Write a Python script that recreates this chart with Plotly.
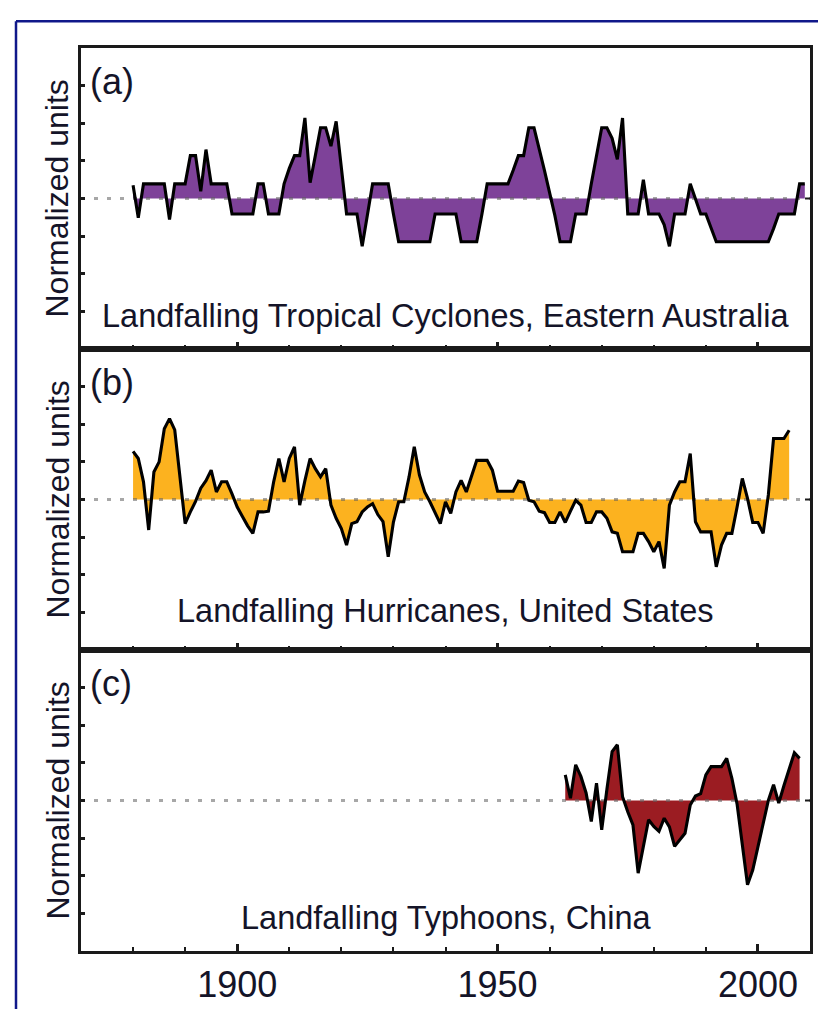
import plotly.graph_objects as go

# ---------------- data ----------------
start_a = 1880
tc_australia = [
    0.35, -0.51, 0.39, 0.39, 0.39, 0.39, 0.39, -0.56, 0.39, 0.39,
    0.39, 1.14, 1.14, 0.19, 1.30, 0.39, 0.39, 0.39, 0.39, -0.41,
    -0.41, -0.41, -0.41, -0.41, 0.39, 0.39, -0.41, -0.41, -0.41, 0.39,
    0.80, 1.14, 1.14, 2.14, 0.42, 1.14, 1.88, 1.88, 1.39, 2.05,
    0.75, -0.41, -0.41, -0.41, -1.27, -0.41, 0.39, 0.39, 0.39, 0.39,
    -0.41, -1.15, -1.15, -1.15, -1.15, -1.15, -1.15, -1.15, -0.41, -0.41,
    -0.41, -0.41, -0.41, -1.15, -1.15, -1.15, -1.15, -0.41, 0.39, 0.39,
    0.39, 0.39, 0.39, 0.75, 1.14, 1.14, 1.88, 1.88, 1.35, 0.75,
    0.15, -0.45, -1.15, -1.15, -1.15, -0.41, -0.41, -0.41, 0.39, 1.14,
    1.88, 1.88, 1.60, 1.04, 2.14, -0.41, -0.41, -0.41, 0.50, -0.41,
    -0.41, -0.41, -0.70, -1.27, -0.41, -0.41, -0.41, 0.39, 0.00, -0.41,
    -0.41, -0.80, -1.15, -1.15, -1.15, -1.15, -1.15, -1.15, -1.15, -1.15,
    -1.15, -1.15, -1.15, -0.80, -0.41, -0.41, -0.41, -0.41, 0.39, 0.39,
]

start_b = 1880
hurricanes_us = [
    1.28, 1.09, 0.47, -0.81, 0.73, 1.00, 1.88, 2.15, 1.85, 0.60,
    -0.64, -0.33, -0.05, 0.30, 0.50, 0.78, 0.20, 0.47, 0.47, 0.15,
    -0.20, -0.45, -0.70, -0.90, -0.33, -0.33, -0.31, 0.47, 1.09, 0.47,
    1.09, 1.40, -0.15, 0.50, 1.09, 0.82, 0.60, 0.82, -0.15, -0.50,
    -0.77, -1.21, -0.64, -0.59, -0.33, -0.20, -0.11, -0.40, -0.59, -1.52,
    -0.60, -0.06, -0.06, 0.60, 1.40, 0.65, 0.20, -0.06, -0.33, -0.64,
    -0.06, -0.37, 0.20, 0.51, 0.20, 0.65, 1.04, 1.04, 1.04, 0.78,
    0.22, 0.22, 0.22, 0.22, 0.49, 0.45, -0.02, -0.06, -0.31, -0.35,
    -0.61, -0.61, -0.33, -0.61, -0.31, -0.02, -0.15, -0.61, -0.61, -0.33,
    -0.33, -0.50, -0.86, -0.90, -1.39, -1.39, -1.39, -0.90, -0.90, -1.12,
    -1.39, -1.12, -1.83, -0.15, 0.20, 0.47, 0.47, 1.22, -0.59, -0.86,
    -0.86, -0.86, -1.79, -1.21, -0.90, -0.90, -0.20, 0.56, 0.03, -0.61,
    -0.61, -0.90, 0.12, 1.62, 1.62, 1.62, 1.84,
]

start_c = 1963
typhoons_china = [
    0.68, 0.06, 0.95, 0.64, 0.20, -0.56, 0.46, -0.78, 0.30, 1.30,
    1.48, 0.10, -0.30, -0.65, -1.93, -1.22, -0.51, -0.69, -0.82, -0.47,
    -0.70, -1.22, -1.04, -0.87, -0.12, 0.12, 0.18, 0.68, 0.90, 0.90,
    0.90, 1.12, 0.59, -0.10, -1.15, -2.24, -1.85, -1.25, -0.60, 0.00,
    0.42, -0.07, 0.40, 0.81, 1.27, 1.12,
]

years_a = list(range(start_a, start_a + len(tc_australia)))
years_b = list(range(start_b, start_b + len(hurricanes_us)))
years_c = list(range(start_c, start_c + len(typhoons_china)))

panel_labels = ["(a)", "(b)", "(c)"]
panel_titles = [
    "Landfalling Tropical Cyclones, Eastern Australia",
    "Landfalling Hurricanes, United States",
    "Landfalling Typhoons, China",
]
y_label = "Normalized units"
x_tick_vals = [1900, 1950, 2000]
x_tick_text = ["1900", "1950", "2000"]
y_tick_vals = [-3, -2, -1, 0, 1, 2, 3]
x_range = [1870, 2010]
y_range = [-4, 4]

# ---------------- styling ----------------
fill_colors = ["#7e4299", "#fcb21f", "#9b1c22"]
FONT = "Liberation Sans, Arial, sans-serif"
TXT = "#141428"
AX = "#1a1a1a"

W, H = 826, 1009
L, R, T, B = 73, 24, 40, 60
PW, PH = W - L - R, H - T - B


def px_x(px):
    return (px - L) / PW


def px_y(py):
    return (H - B - py) / PH


domains = [[2 / 3, 1.0], [1 / 3, 2 / 3], [0.0, 1 / 3]]
series = [(years_a, tc_australia), (years_b, hurricanes_us), (years_c, typhoons_china)]

fig = go.Figure()
layout = dict(
    width=W, height=H,
    margin=dict(l=L, r=R, t=T, b=B),
    paper_bgcolor="white", plot_bgcolor="white",
    showlegend=False,
    font=dict(family=FONT, color=TXT),
)

annotations = []
shapes = []

for i, (yrs, vals) in enumerate(series):
    xa = "x" if i == 0 else f"x{i + 1}"
    ya = "y" if i == 0 else f"y{i + 1}"
    # filled area
    fig.add_trace(go.Scatter(x=yrs, y=vals, mode="lines", fill="tozeroy",
                             fillcolor=fill_colors[i], line=dict(width=0, color=fill_colors[i]),
                             xaxis=xa, yaxis=ya, hoverinfo="skip"))
    # dotted zero line
    fig.add_trace(go.Scatter(x=x_range, y=[0, 0], mode="lines",
                             line=dict(color="rgba(95,95,95,0.55)", width=3, dash="4px,9px"),
                             xaxis=xa, yaxis=ya, hoverinfo="skip"))
    # black outline
    fig.add_trace(go.Scatter(x=yrs, y=vals, mode="lines",
                             line=dict(color="black", width=3.1),
                             xaxis=xa, yaxis=ya))

    xkey = "xaxis" if i == 0 else f"xaxis{i + 1}"
    ykey = "yaxis" if i == 0 else f"yaxis{i + 1}"
    layout[xkey] = dict(
        domain=[0, 1], anchor=ya, range=x_range,
        showgrid=False, zeroline=False,
        showline=True, mirror=True, linecolor=AX, linewidth=2.5,
        ticks="inside", ticklen=7, tickwidth=2.5, tickcolor=AX,
        tickvals=x_tick_vals, ticktext=x_tick_text,
        showticklabels=(i == 2),
        tickfont=dict(size=36, color=TXT, family=FONT),
        minor=dict(dtick=10, tick0=1870, ticks="inside", ticklen=4, tickwidth=2, tickcolor=AX),
    )
    if i > 0:
        layout[xkey]["matches"] = "x"
    layout[ykey] = dict(
        domain=domains[i], anchor=xa, range=y_range,
        showgrid=False, zeroline=False,
        showline=True, mirror=True, linecolor=AX, linewidth=2.5,
        ticks="inside", ticklen=4, tickwidth=2.5, tickcolor=AX,
        tickvals=y_tick_vals, showticklabels=False,
    )

    top_px = T + i * PH / 3
    bot_px = top_px + PH / 3
    mid_px = (top_px + bot_px) / 2
    # y axis label
    annotations.append(dict(text=y_label, textangle=-90, xref="paper", yref="paper",
                            x=px_x(49), y=px_y(mid_px), xanchor="center", yanchor="middle",
                            showarrow=False, font=dict(size=32, color=TXT, family=FONT)))
    # panel letter
    annotations.append(dict(text=panel_labels[i], xref="paper", yref="paper",
                            x=px_x(80), y=px_y(top_px + 11), xanchor="left", yanchor="top",
                            showarrow=False, font=dict(size=36, color=TXT, family=FONT)))
    # panel title
    annotations.append(dict(text=panel_titles[i], xref="paper", yref="paper",
                            x=0.5, y=px_y(bot_px - (39 if i == 1 else 33)),
                            xanchor="center", yanchor="middle",
                            showarrow=False, font=dict(size=32.5, color=TXT, family=FONT)))
    # right-side tick at zero
    zero_px = mid_px
    shapes.append(dict(type="line", xref="paper", yref="paper",
                       x0=1, x1=px_x(L + PW - 5), y0=px_y(zero_px), y1=px_y(zero_px),
                       line=dict(color=AX, width=2)))

# blue outer frame (left and top edges)
shapes.append(dict(type="line", xref="paper", yref="paper",
                   x0=px_x(8), x1=px_x(8), y0=px_y(H + 5), y1=px_y(13),
                   line=dict(color="#10188a", width=2.5)))
shapes.append(dict(type="line", xref="paper", yref="paper",
                   x0=px_x(8), x1=px_x(W + 5), y0=px_y(13), y1=px_y(13),
                   line=dict(color="#10188a", width=2.5)))

layout["annotations"] = annotations
layout["shapes"] = shapes
fig.update_layout(**layout)
fig.write_html("out.html")
